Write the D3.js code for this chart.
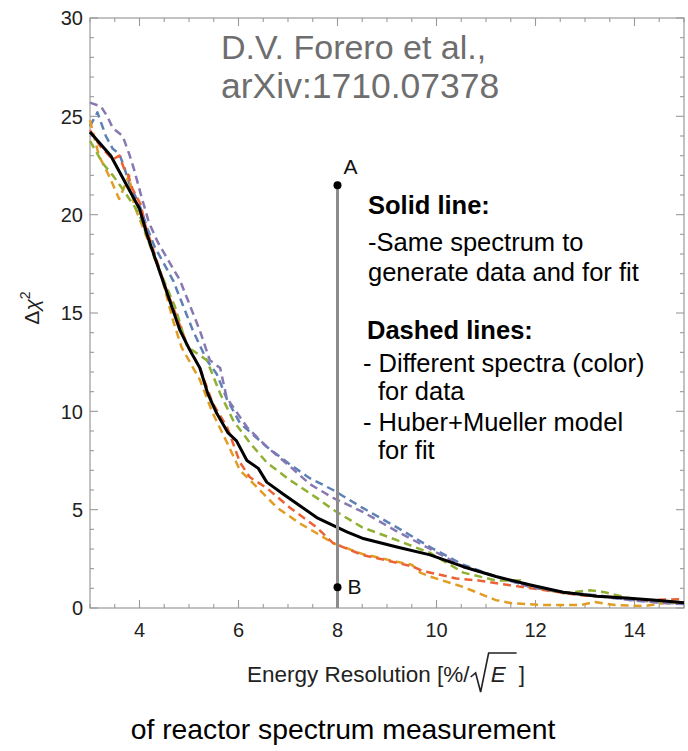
<!DOCTYPE html>
<html>
<head>
<meta charset="utf-8">
<script src="https://cdn.jsdelivr.net/npm/d3@7"></script>
<style>
  html, body { margin: 0; padding: 0; background: #fff; }
  svg { display: block; font-family: "Liberation Sans", Arial, Helvetica, sans-serif; }
</style>
</head>
<body>
<svg id="chart" width="688" height="751"></svg>
<script>
// ---------------- data ----------------
const xTickValues = [4, 6, 8, 10, 12, 14];
const yTickValues = [0, 5, 10, 15, 20, 25, 30];

// Solid line: same spectrum for data and fit
const solidX = [3, 3.42, 3.72, 4.0, 4.15, 4.47, 4.82, 5.02, 5.22, 5.38, 5.56, 5.79, 5.96, 6.17, 6.4, 6.57, 6.9, 7.24, 7.58, 7.91, 8.2, 8.5, 9.2, 9.87, 10.54, 11.2, 11.9, 12.56, 13.24, 13.9, 14.5, 15];
const solidY = [24.2, 23.0, 21.6, 20.3, 19.0, 16.65, 14.1, 13.1, 12.2, 10.9, 9.9, 8.9, 8.5, 7.5, 7.1, 6.4, 5.8, 5.2, 4.6, 4.2, 3.86, 3.55, 3.1, 2.7, 2.1, 1.6, 1.17, 0.8, 0.6, 0.5, 0.38, 0.27];

// Dashed lines: different spectra for data, Huber+Mueller for fit
const blueX = [3, 3.15, 3.32, 3.46, 3.59, 3.68, 3.79, 4.0, 4.16, 4.3, 4.68, 5.08, 5.36, 5.56, 5.77, 6.03, 6.57, 7.04, 7.44, 7.91, 8.5, 9.2, 9.87, 10.54, 11.2, 11.9, 12.56, 13.24, 13.9, 14.6, 15];
const blueY = [24.5, 25.2, 24.0, 23.35, 23.1, 22.5, 21.6, 20.5, 19.3, 18.4, 16.65, 14.1, 12.6, 11.9, 10.6, 9.4, 8.2, 7.3, 6.6, 6.0, 5.1, 4.1, 3.1, 2.2, 1.6, 1.07, 0.8, 0.65, 0.42, 0.27, 0.22];

const orangeX = [3, 3.18, 3.38, 3.59, 3.79, 3.89, 4.03, 4.25, 4.45, 4.68, 4.85, 5.22, 5.48, 5.77, 6.03, 6.37, 6.78, 7.24, 7.58, 7.91, 8.5, 9.2, 9.5, 9.67, 9.87, 10.54, 11.2, 11.5, 12.2, 12.9, 13.2, 13.6, 14.2, 14.6, 15];
const orangeY = [24.8, 23.0, 22.0, 20.8, 22.0, 20.5, 19.6, 18.2, 16.8, 14.6, 13.25, 11.6, 9.9, 8.4, 7.0, 6.15, 5.1, 4.3, 3.8, 3.3, 2.75, 2.35, 2.2, 1.8, 1.6, 1.07, 0.4, 0.25, 0.15, 0.15, 0.3, 0.15, 0.1, 0.25, 0.3];

const greenX = [3, 3.26, 3.46, 3.66, 3.93, 4.03, 4.3, 4.72, 4.96, 5.36, 5.63, 5.9, 6.23, 6.57, 7.04, 7.58, 7.91, 8.5, 9.2, 9.87, 10.54, 11.2, 11.7, 11.9, 12.56, 13.1, 13.4, 13.9, 14.6, 15];
const greenY = [23.75, 22.6, 22.0, 21.3, 20.3, 19.8, 17.8, 15.3, 13.3, 12.6, 10.9, 9.5, 8.4, 7.4, 6.5, 5.6, 5.0, 4.1, 3.45, 2.8, 1.8, 1.4, 1.4, 1.07, 0.75, 0.9, 0.8, 0.5, 0.3, 0.25];

const redX = [3, 3.2, 3.46, 3.59, 3.68, 3.76, 3.86, 4.03, 4.1, 4.5, 4.96, 5.22, 5.48, 5.77, 5.9, 6.03, 6.23, 6.57, 7.04, 7.58, 7.91, 8.5, 9.2, 9.53, 9.7, 10.4, 10.85, 11.5, 12.2, 12.9, 13.6, 14.25, 15];
const redY = [24.3, 23.5, 22.8, 23.0, 22.4, 22.1, 21.3, 20.5, 19.6, 16.5, 13.4, 12.2, 10.4, 9.2, 8.3, 7.4, 6.65, 6.1, 5.1, 4.1, 3.3, 2.7, 2.3, 2.1, 1.9, 1.5, 1.4, 1.15, 0.9, 0.65, 0.55, 0.4, 0.45];

const purpleX = [3, 3.22, 3.35, 3.46, 3.66, 3.79, 3.89, 4.03, 4.19, 4.37, 4.82, 5.22, 5.42, 5.63, 5.76, 6.17, 6.57, 7.04, 7.44, 7.91, 8.5, 9.2, 9.87, 10.54, 11.2, 11.9, 12.56, 13.24, 13.9, 14.6, 15];
const purpleY = [25.7, 25.5, 25.0, 24.4, 24.0, 23.1, 22.3, 21.0, 19.6, 18.6, 16.65, 14.1, 12.6, 12.2, 10.7, 9.2, 8.2, 7.2, 6.3, 5.6, 4.9, 3.9, 3.0, 2.1, 1.6, 1.07, 0.8, 0.62, 0.4, 0.25, 0.2];

// Markers A and B at resolution 8
const markerX = [8, 8];
const markerY = [21.5, 1.05];
const markerLabels = ["A", "B"];

const titleLines = ["D.V. Forero et al.,", "arXiv:1710.07378"];
const noteLines = [
  {t: "Solid line:", bold: true, x: 368, y: 214},
  {t: "-Same spectrum to", bold: false, x: 368, y: 251},
  {t: "generate data and for fit", bold: false, x: 368, y: 281},
  {t: "Dashed lines:", bold: true, x: 367, y: 339},
  {t: "- Different spectra (color)", bold: false, x: 363, y: 372},
  {t: "for data", bold: false, x: 378, y: 400},
  {t: "- Huber+Mueller model", bold: false, x: 363, y: 431},
  {t: "for fit", bold: false, x: 378, y: 459}
];
const caption = "of reactor spectrum measurement";

// ---------------- drawing ----------------
const svg = d3.select("#chart");
const L = 90, R = 684, T = 18, B = 608;
const x = d3.scaleLinear().domain([3, 15]).range([L, R]);
const y = d3.scaleLinear().domain([0, 30]).range([B, T]);

const frameColor = "#9a9a9a";

// Frame
svg.append("rect").attr("x", L).attr("y", T).attr("width", R - L).attr("height", B - T)
  .attr("fill", "none").attr("stroke", frameColor).attr("stroke-width", 1.2);

// Ticks (inward) on all four sides
const xMinor = d3.range(3, 15.001, 0.5).filter(v => Math.abs(v / 2 - Math.round(v / 2)) > 1e-6);
const xMajor = d3.range(4, 15, 2);
const yMinor = d3.range(0, 30.001, 1).filter(v => v % 5 !== 0);
const yMajor = d3.range(0, 30.001, 5);
const tg = svg.append("g").attr("stroke", frameColor).attr("stroke-width", 1.1);
function xt(vals, len) {
  vals.forEach(v => {
    tg.append("line").attr("x1", x(v)).attr("x2", x(v)).attr("y1", B).attr("y2", B - len);
    tg.append("line").attr("x1", x(v)).attr("x2", x(v)).attr("y1", T).attr("y2", T + len);
  });
}
function yt(vals, len) {
  vals.forEach(v => {
    tg.append("line").attr("y1", y(v)).attr("y2", y(v)).attr("x1", L).attr("x2", L + len);
    tg.append("line").attr("y1", y(v)).attr("y2", y(v)).attr("x1", R).attr("x2", R - len);
  });
}
xt(xMinor, 4); xt(xMajor, 8); yt(yMinor, 4); yt(yMajor, 8);

// Tick labels
svg.append("g").selectAll("text").data(xTickValues).join("text")
  .attr("x", d => x(d)).attr("y", 637).attr("text-anchor", "middle")
  .attr("font-size", 20).attr("fill", "#222").text(d => d);
svg.append("g").selectAll("text").data(yTickValues).join("text")
  .attr("x", 83).attr("y", d => y(d)).attr("dy", "0.36em").attr("text-anchor", "end")
  .attr("font-size", 20).attr("fill", "#222").text(d => d);

// Y axis label  Δχ²
const yl = svg.append("text").attr("transform", "translate(39,308) rotate(-90)")
  .attr("text-anchor", "middle").attr("font-size", 21).attr("fill", "#222");
yl.append("tspan").text("Δ");
yl.append("tspan").attr("font-style", "italic").text("χ");
yl.append("tspan").attr("font-size", 14).attr("dy", -9).text("2");

// X axis label  Energy Resolution [%/√E]
const xl = svg.append("text").attr("x", 247).attr("y", 682).attr("font-size", 22.5).attr("fill", "#222")
  .text("Energy Resolution [%/");
const xlw = xl.node().getComputedTextLength();
const rx = 247 + xlw + 1;
svg.append("path")
  .attr("d", `M${rx},${677} L${rx + 5},${673} L${rx + 10},${692} L${rx + 18},${653} L${rx + 46},${653}`)
  .attr("fill", "none").attr("stroke", "#222").attr("stroke-width", 1.6).attr("stroke-linejoin", "miter");
svg.append("text").attr("x", rx + 20).attr("y", 682).attr("font-size", 22.5).attr("font-style", "italic")
  .attr("fill", "#222").text("E");
svg.append("text").attr("x", rx + 48).attr("y", 682).attr("font-size", 22.5).attr("fill", "#222").text("]");

// Curves
const line = d3.line().x(d => x(d[0])).y(d => y(d[1]));
const dashed = [
  {xs: blueX, ys: blueY, c: "#5E81B5"},
  {xs: orangeX, ys: orangeY, c: "#E19C24"},
  {xs: greenX, ys: greenY, c: "#8FB032"},
  {xs: redX, ys: redY, c: "#EB6235"},
  {xs: purpleX, ys: purpleY, c: "#8778B3"}
];
const cg = svg.append("g");
dashed.forEach(s => {
  cg.append("path").datum(d3.zip(s.xs, s.ys)).attr("d", line)
    .attr("fill", "none").attr("stroke", s.c).attr("stroke-width", 2.5)
    .attr("stroke-dasharray", "8,5").attr("stroke-linejoin", "round");
});

// Vertical line at resolution 8 from A down to the axis
svg.append("line").attr("x1", x(markerX[0])).attr("x2", x(markerX[0]))
  .attr("y1", y(markerY[0])).attr("y2", y(0))
  .attr("stroke", "#8c8c8c").attr("stroke-width", 3);

cg.append("path").datum(d3.zip(solidX, solidY)).attr("d", line)
  .attr("fill", "none").attr("stroke", "#000").attr("stroke-width", 3).attr("stroke-linejoin", "round");

// Markers
svg.append("g").selectAll("circle").data(d3.zip(markerX, markerY)).join("circle")
  .attr("cx", d => x(d[0])).attr("cy", d => y(d[1])).attr("r", 4).attr("fill", "#000");
svg.append("g").selectAll("text").data(d3.zip(markerX, markerY, markerLabels)).join("text")
  .attr("x", d => x(d[0]) + (d[2] === "A" ? 6 : 10))
  .attr("y", d => y(d[1]) + (d[2] === "A" ? -11 : 7))
  .attr("font-size", 21).attr("fill", "#111").text(d => d[2]);

// Title (citation)
svg.append("g").selectAll("text").data(titleLines).join("text")
  .attr("x", 221).attr("y", (d, i) => 59 + i * 39)
  .attr("font-size", (d, i) => i === 0 ? 34 : 35.5).attr("fill", "#6e6e6e").text(d => d);

// Notes
svg.append("g").selectAll("text").data(noteLines).join("text")
  .attr("x", d => d.x).attr("y", d => d.y)
  .attr("font-size", 25.5).attr("font-weight", d => d.bold ? "bold" : "normal")
  .attr("fill", "#000").text(d => d.t);

// Caption
svg.append("text").attr("x", 343).attr("y", 739).attr("text-anchor", "middle")
  .attr("font-size", 28.3).attr("fill", "#000").text(caption);
</script>
</body>
</html>
